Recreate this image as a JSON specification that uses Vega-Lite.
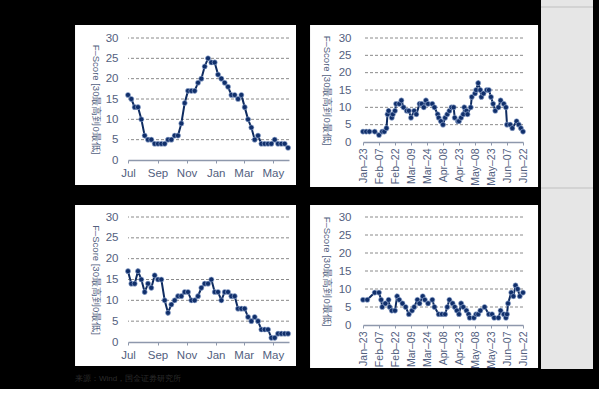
{
  "$schema": "https://vega.github.io/schema/vega-lite/v6.json",
  "background": "black",
  "padding": {"left": 75, "top": 0, "right": 5, "bottom": 5},
  "title": {"text": "来源：Wind，国金证券研究所", "orient": "bottom", "anchor": "start", "frame": "bounds", "fontSize": 8, "fontWeight": "normal", "color": "#2c2c2c", "offset": 6},
  "config": {
    "font": "Liberation Sans",
    "view": {"stroke": null},
    "axis": {"labelOverlap": false, "labelBound": false, "grid": false, "labelColor": "#52607e", "titleColor": "#52607e", "labelFont": "Liberation Sans", "titleFont": "Liberation Sans", "titleFontWeight": "normal", "domainColor": "#8e98ac", "tickColor": "#8e98ac"}
  },
  "datasets": {
    "p1": [
      {"date": "2022-07-01", "score": 16}, {"date": "2022-07-08", "score": 15}, {"date": "2022-07-15", "score": 13}, {"date": "2022-07-22", "score": 13}, {"date": "2022-07-29", "score": 10},
      {"date": "2022-08-05", "score": 6}, {"date": "2022-08-12", "score": 5}, {"date": "2022-08-19", "score": 5}, {"date": "2022-08-26", "score": 4}, {"date": "2022-09-02", "score": 4},
      {"date": "2022-09-09", "score": 4}, {"date": "2022-09-16", "score": 4}, {"date": "2022-09-23", "score": 5}, {"date": "2022-09-30", "score": 5}, {"date": "2022-10-07", "score": 6},
      {"date": "2022-10-14", "score": 6}, {"date": "2022-10-21", "score": 9}, {"date": "2022-10-28", "score": 14}, {"date": "2022-11-04", "score": 17}, {"date": "2022-11-11", "score": 17},
      {"date": "2022-11-18", "score": 17}, {"date": "2022-11-25", "score": 19}, {"date": "2022-12-02", "score": 20}, {"date": "2022-12-09", "score": 23}, {"date": "2022-12-16", "score": 25},
      {"date": "2022-12-23", "score": 24}, {"date": "2022-12-30", "score": 24}, {"date": "2023-01-06", "score": 21}, {"date": "2023-01-13", "score": 20}, {"date": "2023-01-20", "score": 19},
      {"date": "2023-01-27", "score": 18}, {"date": "2023-02-03", "score": 16}, {"date": "2023-02-10", "score": 16}, {"date": "2023-02-17", "score": 15}, {"date": "2023-02-24", "score": 16},
      {"date": "2023-03-03", "score": 13}, {"date": "2023-03-10", "score": 10}, {"date": "2023-03-17", "score": 8}, {"date": "2023-03-24", "score": 5}, {"date": "2023-03-31", "score": 6},
      {"date": "2023-04-07", "score": 4}, {"date": "2023-04-14", "score": 4}, {"date": "2023-04-21", "score": 4}, {"date": "2023-04-28", "score": 4}, {"date": "2023-05-05", "score": 5},
      {"date": "2023-05-12", "score": 4}, {"date": "2023-05-19", "score": 4}, {"date": "2023-05-26", "score": 4}, {"date": "2023-06-02", "score": 3}
    ],
    "p3": [
      {"date": "2022-07-01", "score": 17}, {"date": "2022-07-08", "score": 14}, {"date": "2022-07-15", "score": 14}, {"date": "2022-07-22", "score": 17}, {"date": "2022-07-29", "score": 15},
      {"date": "2022-08-05", "score": 12}, {"date": "2022-08-12", "score": 14}, {"date": "2022-08-19", "score": 13}, {"date": "2022-08-26", "score": 16}, {"date": "2022-09-02", "score": 15},
      {"date": "2022-09-09", "score": 15}, {"date": "2022-09-16", "score": 10}, {"date": "2022-09-23", "score": 7}, {"date": "2022-09-30", "score": 9}, {"date": "2022-10-07", "score": 10},
      {"date": "2022-10-14", "score": 11}, {"date": "2022-10-21", "score": 11}, {"date": "2022-10-28", "score": 12}, {"date": "2022-11-04", "score": 12}, {"date": "2022-11-11", "score": 10},
      {"date": "2022-11-18", "score": 10}, {"date": "2022-11-25", "score": 11}, {"date": "2022-12-02", "score": 13}, {"date": "2022-12-09", "score": 14}, {"date": "2022-12-16", "score": 14},
      {"date": "2022-12-23", "score": 15}, {"date": "2022-12-30", "score": 12}, {"date": "2023-01-06", "score": 12}, {"date": "2023-01-13", "score": 10}, {"date": "2023-01-20", "score": 12},
      {"date": "2023-01-27", "score": 12}, {"date": "2023-02-03", "score": 11}, {"date": "2023-02-10", "score": 11}, {"date": "2023-02-17", "score": 8}, {"date": "2023-02-24", "score": 8},
      {"date": "2023-03-03", "score": 8}, {"date": "2023-03-10", "score": 6}, {"date": "2023-03-17", "score": 5}, {"date": "2023-03-24", "score": 6}, {"date": "2023-03-31", "score": 5},
      {"date": "2023-04-07", "score": 3}, {"date": "2023-04-14", "score": 3}, {"date": "2023-04-21", "score": 3}, {"date": "2023-04-28", "score": 1}, {"date": "2023-05-05", "score": 1},
      {"date": "2023-05-12", "score": 2}, {"date": "2023-05-19", "score": 2}, {"date": "2023-05-26", "score": 2}, {"date": "2023-06-02", "score": 2}
    ],
    "p2": [
      {"date": "2023-01-23", "score": 3}, {"date": "2023-01-26", "score": 3}, {"date": "2023-01-29", "score": 3}, {"date": "2023-02-03", "score": 3}, {"date": "2023-02-07", "score": 2},
      {"date": "2023-02-10", "score": 3}, {"date": "2023-02-12", "score": 3}, {"date": "2023-02-14", "score": 4}, {"date": "2023-02-15", "score": 8}, {"date": "2023-02-16", "score": 9},
      {"date": "2023-02-19", "score": 7}, {"date": "2023-02-20", "score": 8}, {"date": "2023-02-22", "score": 9}, {"date": "2023-02-23", "score": 11}, {"date": "2023-02-26", "score": 11},
      {"date": "2023-02-28", "score": 12}, {"date": "2023-03-02", "score": 10}, {"date": "2023-03-05", "score": 9}, {"date": "2023-03-07", "score": 9}, {"date": "2023-03-09", "score": 7},
      {"date": "2023-03-12", "score": 9}, {"date": "2023-03-14", "score": 8}, {"date": "2023-03-17", "score": 11}, {"date": "2023-03-19", "score": 11}, {"date": "2023-03-21", "score": 10},
      {"date": "2023-03-23", "score": 12}, {"date": "2023-03-25", "score": 11}, {"date": "2023-03-29", "score": 11}, {"date": "2023-03-31", "score": 10}, {"date": "2023-04-03", "score": 8},
      {"date": "2023-04-04", "score": 7}, {"date": "2023-04-06", "score": 6}, {"date": "2023-04-08", "score": 5}, {"date": "2023-04-10", "score": 7}, {"date": "2023-04-12", "score": 8},
      {"date": "2023-04-14", "score": 9}, {"date": "2023-04-16", "score": 10}, {"date": "2023-04-18", "score": 10}, {"date": "2023-04-19", "score": 7}, {"date": "2023-04-22", "score": 6},
      {"date": "2023-04-23", "score": 6}, {"date": "2023-04-25", "score": 7}, {"date": "2023-04-27", "score": 8}, {"date": "2023-04-28", "score": 10}, {"date": "2023-04-30", "score": 9},
      {"date": "2023-05-01", "score": 8}, {"date": "2023-05-04", "score": 10}, {"date": "2023-05-05", "score": 13}, {"date": "2023-05-08", "score": 14}, {"date": "2023-05-09", "score": 15},
      {"date": "2023-05-11", "score": 17}, {"date": "2023-05-13", "score": 15}, {"date": "2023-05-14", "score": 13}, {"date": "2023-05-16", "score": 14}, {"date": "2023-05-19", "score": 15},
      {"date": "2023-05-21", "score": 15}, {"date": "2023-05-23", "score": 13}, {"date": "2023-05-25", "score": 11}, {"date": "2023-05-27", "score": 9}, {"date": "2023-05-30", "score": 10},
      {"date": "2023-06-01", "score": 12}, {"date": "2023-06-04", "score": 11}, {"date": "2023-06-06", "score": 10}, {"date": "2023-06-07", "score": 5}, {"date": "2023-06-10", "score": 5},
      {"date": "2023-06-12", "score": 4}, {"date": "2023-06-16", "score": 6}, {"date": "2023-06-18", "score": 5}, {"date": "2023-06-20", "score": 4}, {"date": "2023-06-22", "score": 3}
    ],
    "p4": [
      {"date": "2023-01-23", "score": 7}, {"date": "2023-01-27", "score": 7}, {"date": "2023-02-03", "score": 9}, {"date": "2023-02-07", "score": 9}, {"date": "2023-02-09", "score": 7},
      {"date": "2023-02-10", "score": 5}, {"date": "2023-02-13", "score": 6}, {"date": "2023-02-16", "score": 7}, {"date": "2023-02-17", "score": 5}, {"date": "2023-02-19", "score": 4},
      {"date": "2023-02-22", "score": 4}, {"date": "2023-02-24", "score": 8}, {"date": "2023-02-26", "score": 7}, {"date": "2023-03-01", "score": 6}, {"date": "2023-03-04", "score": 5},
      {"date": "2023-03-07", "score": 3}, {"date": "2023-03-10", "score": 4}, {"date": "2023-03-12", "score": 5}, {"date": "2023-03-15", "score": 7}, {"date": "2023-03-17", "score": 6},
      {"date": "2023-03-20", "score": 8}, {"date": "2023-03-22", "score": 7}, {"date": "2023-03-25", "score": 6}, {"date": "2023-03-29", "score": 7}, {"date": "2023-03-31", "score": 5},
      {"date": "2023-04-04", "score": 3}, {"date": "2023-04-07", "score": 3}, {"date": "2023-04-10", "score": 3}, {"date": "2023-04-12", "score": 5}, {"date": "2023-04-14", "score": 7},
      {"date": "2023-04-17", "score": 6}, {"date": "2023-04-19", "score": 5}, {"date": "2023-04-21", "score": 4}, {"date": "2023-04-23", "score": 3}, {"date": "2023-04-25", "score": 6},
      {"date": "2023-04-27", "score": 5}, {"date": "2023-04-30", "score": 4}, {"date": "2023-05-02", "score": 3}, {"date": "2023-05-03", "score": 2}, {"date": "2023-05-07", "score": 2},
      {"date": "2023-05-09", "score": 3}, {"date": "2023-05-11", "score": 3}, {"date": "2023-05-13", "score": 4}, {"date": "2023-05-17", "score": 5}, {"date": "2023-05-21", "score": 3},
      {"date": "2023-05-24", "score": 3}, {"date": "2023-05-26", "score": 2}, {"date": "2023-05-30", "score": 2}, {"date": "2023-06-01", "score": 4}, {"date": "2023-06-04", "score": 3},
      {"date": "2023-06-06", "score": 2}, {"date": "2023-06-07", "score": 3}, {"date": "2023-06-08", "score": 6}, {"date": "2023-06-11", "score": 9}, {"date": "2023-06-13", "score": 8},
      {"date": "2023-06-15", "score": 11}, {"date": "2023-06-17", "score": 10}, {"date": "2023-06-19", "score": 8}, {"date": "2023-06-22", "score": 9}
    ],
    "gridlines": [{"level": 5}, {"level": 10}, {"level": 15}, {"level": 20}, {"level": 25}, {"level": 30}]
  },
  "concat": [
    {
      "width": 161, "height": 122,
      "resolve": {"scale": {"x": "independent", "y": "independent"}, "axis": {"x": "independent", "y": "independent"}},
      "layer": [
        {"data": {"values": [{}]}, "mark": {"type": "rect", "color": "white"},
         "encoding": {
           "x": {"datum": -0.329, "type": "quantitative", "scale": {"domain": [0, 1], "nice": false, "zero": false}, "axis": null},
           "x2": {"datum": 1.0435},
           "y": {"datum": 1.1066, "type": "quantitative", "scale": {"domain": [0, 1], "nice": false, "zero": false}, "axis": null},
           "y2": {"datum": -0.205}}},
        {"layer": [
          {"data": {"name": "gridlines"}, "mark": {"type": "rule", "color": "#8a8a8a", "strokeWidth": 1, "strokeDash": [3, 2]},
           "encoding": {"y": {"field": "level", "type": "quantitative", "scale": {"domain": [0, 30], "nice": false},
             "axis": {"zindex": 2, "orient": "left", "title": "F–Score [30最高到0最低]", "titleAngle": 90, "titleFontSize": 9.5, "titlePadding": 15, "values": [0, 5, 10, 15, 20, 25, 30], "labelOverlap": false, "domain": false, "ticks": false, "labelPadding": 10, "labelFontSize": 11.5}}}},
          {"data": {"name": "p1"}, "mark": {"type": "line", "color": "#0e2b60", "strokeWidth": 2, "point": {"filled": true, "size": 26, "color": "#102f6b", "stroke": "#9fb4d8", "strokeWidth": 0.6, "opacity": 1}},
           "encoding": {
             "x": {"field": "date", "type": "temporal", "scale": {"type": "utc", "nice": false, "domain": [{"year": 2022, "month": 7, "date": 1, "utc": true}, {"year": 2023, "month": 6, "date": 4, "utc": true}]},
                   "axis": {"zindex": 2, "orient": "bottom", "title": null, "format": "%b", "labelOverlap": false, "labelFlush": false, "labelFontSize": 11.5, "labelPadding": 4, "tickSize": 3, "domainWidth": 1.5,
                            "values": [{"year": 2022, "month": 7, "date": 1, "utc": true}, {"year": 2022, "month": 9, "date": 1, "utc": true}, {"year": 2022, "month": 11, "date": 1, "utc": true}, {"year": 2023, "month": 1, "date": 1, "utc": true}, {"year": 2023, "month": 3, "date": 1, "utc": true}, {"year": 2023, "month": 5, "date": 1, "utc": true}]}},
             "y": {"field": "score", "type": "quantitative", "scale": {"domain": [0, 30], "nice": false},
                   "axis": {"zindex": 2, "orient": "left", "title": "F–Score [30最高到0最低]", "titleAngle": 90, "titleFontSize": 9.5, "titlePadding": 15, "values": [0, 5, 10, 15, 20, 25, 30], "labelOverlap": false, "domain": false, "ticks": false, "labelPadding": 10, "labelFontSize": 11.5}}}}
        ]}
      ]
    },
    {
      "width": 160, "height": 104,
      "resolve": {"scale": {"x": "independent", "y": "independent"}, "axis": {"x": "independent", "y": "independent"}},
      "layer": [
        {"data": {"values": [{}]}, "mark": {"type": "rect", "color": "white"},
         "encoding": {
           "x": {"datum": -0.331, "type": "quantitative", "scale": {"domain": [0, 1], "nice": false, "zero": false}, "axis": null},
           "x2": {"datum": 1.094},
           "y": {"datum": 1.125, "type": "quantitative", "scale": {"domain": [0, 1], "nice": false, "zero": false}, "axis": null},
           "y2": {"datum": -0.433}}},
        {"data": {"values": [{}]}, "mark": {"type": "rect", "color": "#e6e6e6"},
         "encoding": {
           "x": {"datum": 1.1125, "type": "quantitative", "scale": {"domain": [0, 1], "nice": false, "zero": false}, "axis": null},
           "x2": {"datum": 1.4375},
           "y": {"datum": 1.365, "type": "quantitative", "scale": {"domain": [0, 1], "nice": false, "zero": false}, "axis": null},
           "y2": {"datum": -2.183}}},
        {"data": {"values": [{"edge": 1.298}, {"edge": -0.442}]}, "mark": {"type": "rule", "color": "#cdcdcd", "strokeWidth": 1.5},
         "encoding": {
           "x": {"datum": 1.1125, "type": "quantitative", "scale": {"domain": [0, 1], "nice": false, "zero": false}, "axis": null},
           "x2": {"datum": 1.4375},
           "y": {"field": "edge", "type": "quantitative", "scale": {"domain": [0, 1], "nice": false, "zero": false}, "axis": null}}},
        {"layer": [
          {"data": {"name": "gridlines"}, "mark": {"type": "rule", "color": "#8a8a8a", "strokeWidth": 1, "strokeDash": [3, 2]},
           "encoding": {"y": {"field": "level", "type": "quantitative", "scale": {"domain": [0, 30], "nice": false},
             "axis": {"zindex": 2, "orient": "left", "title": "F–Score [30最高到0最低]", "titleAngle": 90, "titleFontSize": 9.5, "titlePadding": 17, "values": [0, 5, 10, 15, 20, 25, 30], "labelOverlap": false, "domain": false, "ticks": false, "labelPadding": 12, "labelFontSize": 11.5}}}},
          {"data": {"name": "p2"}, "mark": {"type": "line", "color": "#0e2b60", "strokeWidth": 2, "point": {"filled": true, "size": 26, "color": "#102f6b", "stroke": "#9fb4d8", "strokeWidth": 0.6, "opacity": 1}},
           "encoding": {
             "x": {"field": "date", "type": "temporal", "scale": {"type": "utc", "nice": false, "domain": [{"year": 2023, "month": 1, "date": 23, "utc": true}, {"year": 2023, "month": 6, "date": 22, "utc": true}]},
                   "axis": {"zindex": 2, "orient": "bottom", "title": null, "format": "%b–%d", "labelAngle": -90, "labelOverlap": false, "labelFlush": false, "labelFontSize": 10.5, "labelPadding": 3, "tickSize": 3, "domainWidth": 1.5,
                            "values": [{"year": 2023, "month": 1, "date": 23, "utc": true}, {"year": 2023, "month": 2, "date": 7, "utc": true}, {"year": 2023, "month": 2, "date": 22, "utc": true}, {"year": 2023, "month": 3, "date": 9, "utc": true}, {"year": 2023, "month": 3, "date": 24, "utc": true}, {"year": 2023, "month": 4, "date": 8, "utc": true}, {"year": 2023, "month": 4, "date": 23, "utc": true}, {"year": 2023, "month": 5, "date": 8, "utc": true}, {"year": 2023, "month": 5, "date": 23, "utc": true}, {"year": 2023, "month": 6, "date": 7, "utc": true}, {"year": 2023, "month": 6, "date": 22, "utc": true}]}},
             "y": {"field": "score", "type": "quantitative", "scale": {"domain": [0, 30], "nice": false},
                   "axis": {"zindex": 2, "orient": "left", "title": "F–Score [30最高到0最低]", "titleAngle": 90, "titleFontSize": 9.5, "titlePadding": 17, "values": [0, 5, 10, 15, 20, 25, 30], "labelOverlap": false, "domain": false, "ticks": false, "labelPadding": 12, "labelFontSize": 11.5}}}}
        ]}
      ]
    },
    {
      "width": 161, "height": 125,
      "resolve": {"scale": {"x": "independent", "y": "independent"}, "axis": {"x": "independent", "y": "independent"}},
      "layer": [
        {"data": {"values": [{}]}, "mark": {"type": "rect", "color": "white"},
         "encoding": {
           "x": {"datum": -0.329, "type": "quantitative", "scale": {"domain": [0, 1], "nice": false, "zero": false}, "axis": null},
           "x2": {"datum": 1.0435},
           "y": {"datum": 1.096, "type": "quantitative", "scale": {"domain": [0, 1], "nice": false, "zero": false}, "axis": null},
           "y2": {"datum": -0.192}}},
        {"layer": [
          {"data": {"name": "gridlines"}, "mark": {"type": "rule", "color": "#8a8a8a", "strokeWidth": 1, "strokeDash": [3, 2]},
           "encoding": {"y": {"field": "level", "type": "quantitative", "scale": {"domain": [0, 30], "nice": false},
             "axis": {"zindex": 2, "orient": "left", "title": "F–Score [30最高到0最低]", "titleAngle": 90, "titleFontSize": 9.5, "titlePadding": 15, "values": [0, 5, 10, 15, 20, 25, 30], "labelOverlap": false, "domain": false, "ticks": false, "labelPadding": 10, "labelFontSize": 11.5}}}},
          {"data": {"name": "p3"}, "mark": {"type": "line", "color": "#0e2b60", "strokeWidth": 2, "point": {"filled": true, "size": 26, "color": "#102f6b", "stroke": "#9fb4d8", "strokeWidth": 0.6, "opacity": 1}},
           "encoding": {
             "x": {"field": "date", "type": "temporal", "scale": {"type": "utc", "nice": false, "domain": [{"year": 2022, "month": 7, "date": 1, "utc": true}, {"year": 2023, "month": 6, "date": 4, "utc": true}]},
                   "axis": {"zindex": 2, "orient": "bottom", "title": null, "format": "%b", "labelOverlap": false, "labelFlush": false, "labelFontSize": 11.5, "labelPadding": 4, "tickSize": 3, "domainWidth": 1.5,
                            "values": [{"year": 2022, "month": 7, "date": 1, "utc": true}, {"year": 2022, "month": 9, "date": 1, "utc": true}, {"year": 2022, "month": 11, "date": 1, "utc": true}, {"year": 2023, "month": 1, "date": 1, "utc": true}, {"year": 2023, "month": 3, "date": 1, "utc": true}, {"year": 2023, "month": 5, "date": 1, "utc": true}]}},
             "y": {"field": "score", "type": "quantitative", "scale": {"domain": [0, 30], "nice": false},
                   "axis": {"zindex": 2, "orient": "left", "title": "F–Score [30最高到0最低]", "titleAngle": 90, "titleFontSize": 9.5, "titlePadding": 15, "values": [0, 5, 10, 15, 20, 25, 30], "labelOverlap": false, "domain": false, "ticks": false, "labelPadding": 10, "labelFontSize": 11.5}}}}
        ]}
      ]
    },
    {
      "width": 160, "height": 108,
      "resolve": {"scale": {"x": "independent", "y": "independent"}, "axis": {"x": "independent", "y": "independent"}},
      "layer": [
        {"data": {"values": [{}]}, "mark": {"type": "rect", "color": "white"},
         "encoding": {
           "x": {"datum": -0.331, "type": "quantitative", "scale": {"domain": [0, 1], "nice": false, "zero": false}, "axis": null},
           "x2": {"datum": 1.094},
           "y": {"datum": 1.111, "type": "quantitative", "scale": {"domain": [0, 1], "nice": false, "zero": false}, "axis": null},
           "y2": {"datum": -0.398}}},
        {"layer": [
          {"data": {"name": "gridlines"}, "mark": {"type": "rule", "color": "#8a8a8a", "strokeWidth": 1, "strokeDash": [3, 2]},
           "encoding": {"y": {"field": "level", "type": "quantitative", "scale": {"domain": [0, 30], "nice": false},
             "axis": {"zindex": 2, "orient": "left", "title": "F–Score [30最高到0最低]", "titleAngle": 90, "titleFontSize": 9.5, "titlePadding": 17, "values": [0, 5, 10, 15, 20, 25, 30], "labelOverlap": false, "domain": false, "ticks": false, "labelPadding": 12, "labelFontSize": 11.5}}}},
          {"data": {"name": "p4"}, "mark": {"type": "line", "color": "#0e2b60", "strokeWidth": 2, "point": {"filled": true, "size": 26, "color": "#102f6b", "stroke": "#9fb4d8", "strokeWidth": 0.6, "opacity": 1}},
           "encoding": {
             "x": {"field": "date", "type": "temporal", "scale": {"type": "utc", "nice": false, "domain": [{"year": 2023, "month": 1, "date": 23, "utc": true}, {"year": 2023, "month": 6, "date": 22, "utc": true}]},
                   "axis": {"zindex": 2, "orient": "bottom", "title": null, "format": "%b–%d", "labelAngle": -90, "labelOverlap": false, "labelFlush": false, "labelFontSize": 10.5, "labelPadding": 3, "tickSize": 3, "domainWidth": 1.5,
                            "values": [{"year": 2023, "month": 1, "date": 23, "utc": true}, {"year": 2023, "month": 2, "date": 7, "utc": true}, {"year": 2023, "month": 2, "date": 22, "utc": true}, {"year": 2023, "month": 3, "date": 9, "utc": true}, {"year": 2023, "month": 3, "date": 24, "utc": true}, {"year": 2023, "month": 4, "date": 8, "utc": true}, {"year": 2023, "month": 4, "date": 23, "utc": true}, {"year": 2023, "month": 5, "date": 8, "utc": true}, {"year": 2023, "month": 5, "date": 23, "utc": true}, {"year": 2023, "month": 6, "date": 7, "utc": true}, {"year": 2023, "month": 6, "date": 22, "utc": true}]}},
             "y": {"field": "score", "type": "quantitative", "scale": {"domain": [0, 30], "nice": false},
                   "axis": {"zindex": 2, "orient": "left", "title": "F–Score [30最高到0最低]", "titleAngle": 90, "titleFontSize": 9.5, "titlePadding": 17, "values": [0, 5, 10, 15, 20, 25, 30], "labelOverlap": false, "domain": false, "ticks": false, "labelPadding": 12, "labelFontSize": 11.5}}}}
        ]}
      ]
    }
  ],
  "columns": 2,
  "spacing": {"row": 57, "column": 74},
  "bounds": "flush"
}
